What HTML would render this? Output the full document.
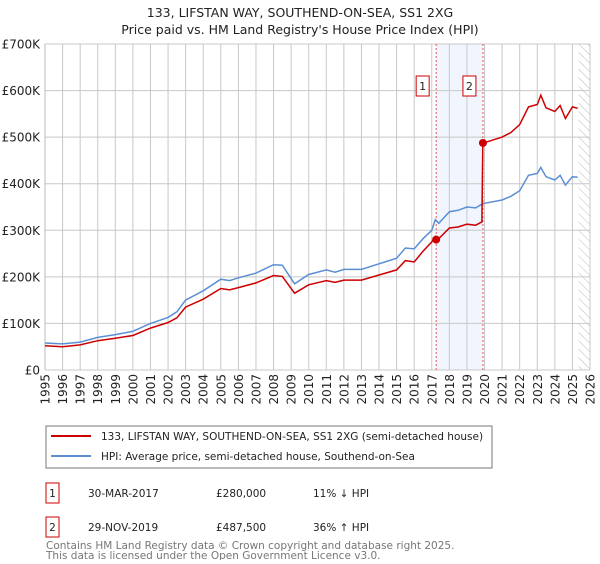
<!DOCTYPE html>
<html><head><meta charset="utf-8"><style>
body{margin:0;background:#fff;font-family:"DejaVu Sans","Liberation Sans",sans-serif;}
</style></head><body>
<svg width="600" height="560" viewBox="0 0 600 560" xmlns="http://www.w3.org/2000/svg" font-family="DejaVu Sans, Liberation Sans, sans-serif">
<defs><pattern id="hatch" width="6" height="6" patternUnits="userSpaceOnUse" patternTransform="rotate(-45)"><line x1="0" y1="0" x2="0" y2="6" stroke="#bbb" stroke-width="1"/></pattern></defs>
<text x="300" y="17" text-anchor="middle" font-size="12.5" fill="#222">133, LIFSTAN WAY, SOUTHEND-ON-SEA, SS1 2XG</text>
<text x="300" y="34" text-anchor="middle" font-size="12.5" fill="#222">Price paid vs. HM Land Registry's House Price Index (HPI)</text>
<g id="grid"></g>
<g id="marks"></g>
<g id="legend">
<rect x="46" y="426" width="446" height="42" fill="#fff" stroke="#777"/>
<line x1="51" y1="436" x2="91" y2="436" stroke="#cc0000" stroke-width="2"/>
<text x="101" y="440" font-size="10.5" fill="#222">133, LIFSTAN WAY, SOUTHEND-ON-SEA, SS1 2XG (semi-detached house)</text>
<line x1="51" y1="456" x2="91" y2="456" stroke="#5b8fd4" stroke-width="2"/>
<text x="101" y="460" font-size="10.5" fill="#222">HPI: Average price, semi-detached house, Southend-on-Sea</text>
</g>
<g font-size="10.5" fill="#222">
<rect x="46" y="483" width="13" height="20" fill="#fff" stroke="#cc0000"/>
<text x="52.5" y="497" text-anchor="middle">1</text>
<text x="88" y="497">30-MAR-2017</text>
<text x="216" y="497">£280,000</text>
<text x="313" y="497">11% ↓ HPI</text>
<rect x="46" y="517" width="13" height="20" fill="#fff" stroke="#cc0000"/>
<text x="52.5" y="531" text-anchor="middle">2</text>
<text x="88" y="531">29-NOV-2019</text>
<text x="216" y="531">£487,500</text>
<text x="313" y="531">36% ↑ HPI</text>
</g>
<text x="46" y="549" font-size="10.5" fill="#777">Contains HM Land Registry data © Crown copyright and database right 2025.</text>
<text x="46" y="559" font-size="10.5" fill="#777">This data is licensed under the Open Government Licence v3.0.</text>
</svg>
<script>
const years=[1995,1996,1997,1998,1999,2000,2001,2002,2002.5,2003,2004,2005,2005.5,2006,2007,2008,2008.5,2009.2,2010,2011,2011.5,2012,2013,2014,2015,2015.5,2016,2016.5,2017,2017.2,2017.4,2018,2018.5,2019,2019.5,2019.85,2019.9,2020,2021,2021.5,2022,2022.5,2023,2023.2,2023.5,2024,2024.3,2024.6,2025,2025.3];
const hpiValues=[58,56,60,70,76,83,100,113,125,150,170,195,192,198,208,226,225,185,205,215,210,216,216,228,240,262,260,282,300,323,315,340,343,350,348,356,358,358,365,373,385,418,422,435,415,408,418,397,415,414];
const priceValues=[52,50,54,63,68,74,90,102,112,135,152,175,172,177,187,203,201,165,183,192,188,193,193,204,215,235,232,255,275,287,282,305,307,313,311,318,487.5,488,500,510,527,565,570,590,563,555,568,540,565,562];
const saleYears=[2017.25,2019.91];
const saleValues=[280,487.5];
const saleLabels=["1","2"];
const yTicks=[0,100,200,300,400,500,600,700];
const yTickLabels=["£0","£100K","£200K","£300K","£400K","£500K","£600K","£700K"];
const xTicks=[1995,1996,1997,1998,1999,2000,2001,2002,2003,2004,2005,2006,2007,2008,2009,2010,2011,2012,2013,2014,2015,2016,2017,2018,2019,2020,2021,2022,2023,2024,2025,2026];
const L=45,R=590,T=44,B=370,X0=1995,X1=2026,YMAX=700;
const X=v=>L+(v-X0)*(R-L)/(X1-X0);
const Y=v=>B-v*(B-T)/YMAX;
const NS="http://www.w3.org/2000/svg";
function mk(tag,attrs,parent){const e=document.createElementNS(NS,tag);for(const k in attrs)e.setAttribute(k,attrs[k]);parent.appendChild(e);return e;}
const grid=document.getElementById('grid'),marks=document.getElementById('marks');
let band=mk('rect',{x:X(saleYears[0]),y:T,width:X(saleYears[1])-X(saleYears[0]),height:B-T,fill:'#eef3fc',opacity:0.8},grid);


let hatch=mk('rect',{x:X(2025.35),y:T,width:R-X(2025.35),height:B-T,fill:'url(#hatch)'},grid);


xTicks.forEach(t=>{
 let l=mk('line',{x1:X(t),x2:X(t),y1:T,y2:B,stroke:'#c8c8c8','stroke-width':1},grid);
 
 
 let tx=mk('text',{x:0,y:0,'text-anchor':'end','font-size':12,fill:'#222',transform:'translate('+(X(t)+4.5)+',374) rotate(-90)'},grid);
 tx.textContent=t;
 
 
});
yTicks.forEach((t,i)=>{
 let l=mk('line',{x1:L,x2:R,y1:Y(t),y2:Y(t),stroke:'#c8c8c8','stroke-width':1},grid);
 
 
 let tx=mk('text',{x:L-5,y:Y(t)+4.5,'text-anchor':'end','font-size':12,fill:'#222'},grid);
 tx.textContent=yTickLabels[i];
 
 
});
mk('line',{x1:L,x2:L,y1:T,y2:B,stroke:'#bbb'},grid);
saleYears.forEach((s,i)=>{
 let l=mk('line',{x1:X(s),x2:X(s),y1:T,y2:B,stroke:'#e55','stroke-width':1,'stroke-dasharray':'2,2'},grid);
 
 
 let r=mk('rect',{x:X(s)-20,y:T+32,width:13,height:20,fill:'#fff',stroke:'#cc0000'},grid);
 
 
 let tx=mk('text',{x:X(s)-13.5,y:T+46,'text-anchor':'middle','font-size':11,fill:'#222'},grid);
 tx.textContent=saleLabels[i];
 
 
});
const pts=a=>years.map((y,i)=>X(y).toFixed(1)+','+Y(a[i]).toFixed(1)).join(' ');
let hpi=mk('polyline',{points:pts(hpiValues),fill:'none',stroke:'#5b8fd4','stroke-width':1.5},marks);


let pr=mk('polyline',{points:pts(priceValues),fill:'none',stroke:'#cc0000','stroke-width':1.5},marks);


saleYears.forEach((s,i)=>{
 let c=mk('circle',{cx:X(s),cy:Y(saleValues[i]),r:4,fill:'#cc0000'},marks);
 
 
});
</script>
</body></html>
